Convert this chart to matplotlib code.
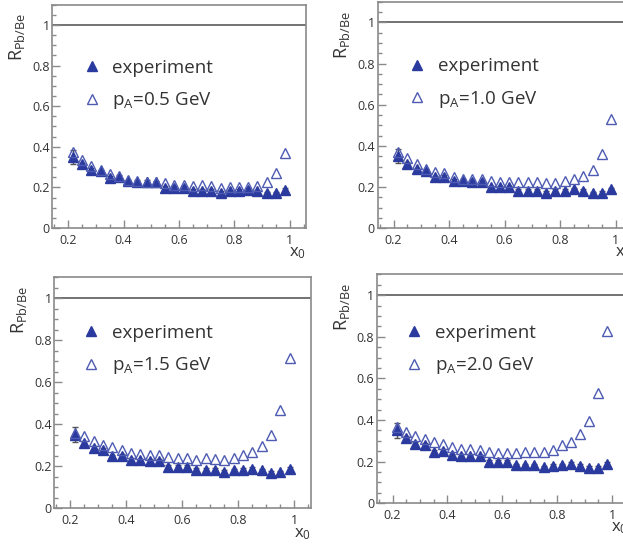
import matplotlib
matplotlib.use("Agg")
import matplotlib.pyplot as plt
from matplotlib.ticker import MultipleLocator

FONT = "Open Sans"
plt.rcParams['font.family'] = [FONT, 'DejaVu Sans']
plt.rcParams['mathtext.fontset'] = 'custom'
plt.rcParams['mathtext.rm'] = FONT
plt.rcParams['mathtext.it'] = FONT + ':italic'

# ---- data ----
x0 = [0.217, 0.250, 0.283, 0.317, 0.350, 0.383, 0.417, 0.450, 0.483, 0.517,
      0.550, 0.583, 0.617, 0.650, 0.683, 0.717, 0.750, 0.783, 0.817, 0.850,
      0.883, 0.917, 0.950, 0.983]
experiment = [0.350, 0.313, 0.287, 0.280, 0.248, 0.251, 0.230, 0.229, 0.226, 0.225,
              0.199, 0.199, 0.199, 0.182, 0.182, 0.182, 0.173, 0.181, 0.182, 0.189,
              0.181, 0.170, 0.171, 0.189]
experiment_err = [0.035, 0.008, 0.008, 0.008, 0.008, 0.008, 0.008, 0.008, 0.008, 0.008,
                  0.008, 0.008, 0.008, 0.008, 0.008, 0.008, 0.008, 0.008, 0.008, 0.008,
                  0.008, 0.008, 0.008, 0.008]
model_05 = [0.372, 0.335, 0.307, 0.285, 0.266, 0.255, 0.238, 0.231, 0.228, 0.228,
            0.222, 0.214, 0.214, 0.209, 0.213, 0.207, 0.199, 0.202, 0.202, 0.203,
            0.209, 0.226, 0.270, 0.368]
model_10 = [0.372, 0.341, 0.312, 0.290, 0.275, 0.270, 0.251, 0.240, 0.238, 0.237,
            0.232, 0.226, 0.226, 0.223, 0.226, 0.223, 0.220, 0.221, 0.230, 0.238,
            0.253, 0.285, 0.363, 0.533]
model_15 = [0.358, 0.342, 0.319, 0.303, 0.290, 0.279, 0.265, 0.257, 0.256, 0.254,
            0.246, 0.239, 0.239, 0.231, 0.239, 0.235, 0.232, 0.240, 0.256, 0.270,
            0.298, 0.350, 0.466, 0.717]
model_20 = [0.368, 0.344, 0.325, 0.309, 0.293, 0.285, 0.272, 0.261, 0.259, 0.256,
            0.248, 0.243, 0.243, 0.240, 0.248, 0.248, 0.248, 0.256, 0.280, 0.296,
            0.331, 0.397, 0.531, 0.829]
models = [model_05, model_10, model_15, model_20]
pA_labels = ["0.5", "1.0", "1.5", "2.0"]

# ---- layout ----
W, H = 623, 544
fig = plt.figure(figsize=(W / 100, H / 100), dpi=100)
fig.patch.set_facecolor('white')

# [left, bottom, width, height] in figure fraction
rects = [
    [0.0840, 0.5809, 0.4072, 0.4105],
    [0.6063, 0.5803, 0.4077, 0.4165],
    [0.0872, 0.0656, 0.4114, 0.4246],
    [0.6051, 0.0748, 0.4030, 0.4210],
]
leg_anchor = [(0.153, 0.722), (0.154, 0.720), (0.142, 0.764), (0.147, 0.749)]

FILL = '#2b3a9e'
OPEN = '#4d5bb3'
FRAME = '#8a8a8a'
TXT = '#333333'

for i, rect in enumerate(rects):
    ax = fig.add_axes(rect)
    ax.set_xlim(0.143, 1.058)
    ax.set_ylim(0, 1.1)
    ax.axhline(1.0, color='#5a5a5a', lw=1.2, zorder=1)

    ax.errorbar(x0, experiment, yerr=experiment_err, fmt='none',
                ecolor='#555555', elinewidth=1.0, capsize=2.5, capthick=1.0,
                zorder=2)
    h_exp, = ax.plot(x0, experiment, linestyle='none', marker='^', ms=6.8,
                     color=FILL, mec=FILL, mfc=FILL, zorder=3)
    h_mod, = ax.plot(x0, models[i], linestyle='none', marker='^', ms=7.0,
                     mfc='none', mec=OPEN, mew=1.0, zorder=4)

    for s in ax.spines.values():
        s.set_color(FRAME)
        s.set_linewidth(1.2)
    ax.xaxis.set_minor_locator(MultipleLocator(0.05))
    ax.yaxis.set_minor_locator(MultipleLocator(0.05))
    ax.tick_params(which='both', direction='in', color=FRAME, width=1.0,
                   labelcolor=TXT, labelsize=9)
    ax.tick_params(which='major', length=6)
    ax.tick_params(which='minor', length=3)
    ax.tick_params(axis='x', pad=4)
    ax.tick_params(axis='y', pad=2)
    ax.set_xticks([0.2, 0.4, 0.6, 0.8, 1.0])
    ax.set_xticklabels(['0.2', '0.4', '0.6', '0.8', '1'])
    ax.set_yticks([0, 0.2, 0.4, 0.6, 0.8, 1.0])
    ax.set_yticklabels(['0', '0.2', '0.4', '0.6', '0.8', '1'])

    ax.set_ylabel(r'R$_{\mathrm{Pb/Be}}$', loc='top', fontsize=13, color=TXT)
    ax.yaxis.set_label_coords(-0.10, 0.96)
    ax.set_xlabel(r'x$_{\mathrm{0}}$', loc='right', fontsize=12, color=TXT)
    ax.xaxis.set_label_coords(1.0, -0.075)

    lx, ly = leg_anchor[i]
    leg = ax.legend([h_exp, h_mod],
                    ['experiment', r'p$_{\mathrm{A}}$=' + pA_labels[i] + ' GeV'],
                    loc='upper left', bbox_to_anchor=(lx - 0.035, ly + 0.035),
                    frameon=False, fontsize=13.5, handlelength=1.0,
                    handletextpad=0.6, labelspacing=0.72, borderpad=0.0,
                    borderaxespad=0.0, numpoints=1)
    for t in leg.get_texts():
        t.set_color(TXT)

fig.savefig('out.png', dpi=100)
